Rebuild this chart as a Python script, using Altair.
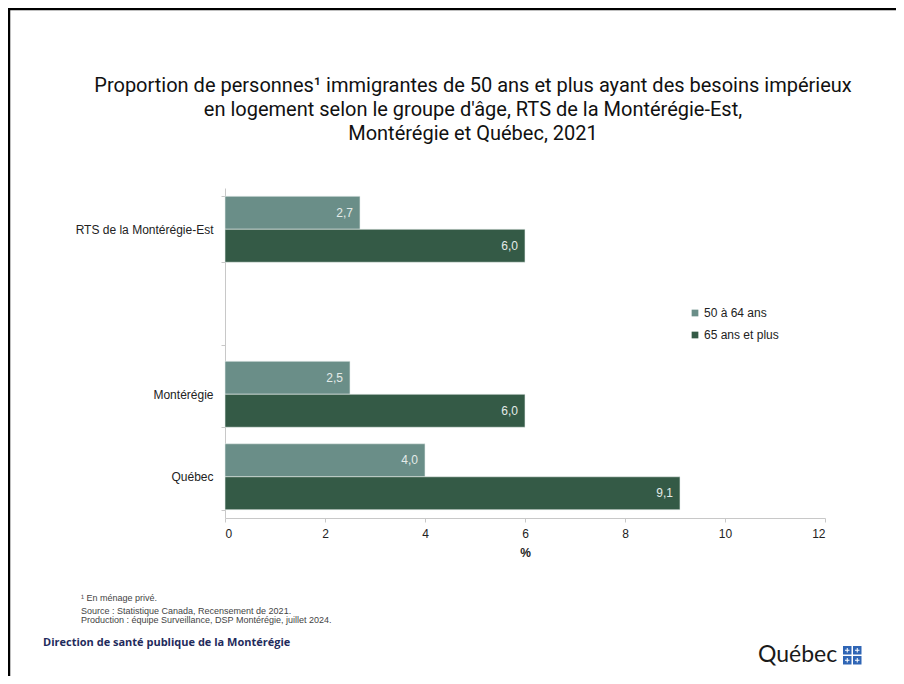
import altair as alt
import pandas as pd

regions = ["RTS de la Montérégie-Est", "Montérégie", "Québec"]
domain_y = ["RTS de la Montérégie-Est", " ", "Montérégie", "Québec"]
groups = ["50 à 64 ans", "65 ans et plus"]
vals_50_64 = [2.7, 2.5, 4.0]
vals_65 = [6.0, 6.0, 9.1]
colors = ["#6a8e88", "#345a46"]

title_lines = [
    "Proportion de personnes¹ immigrantes de 50 ans et plus ayant des besoins impérieux",
    "en logement selon le groupe d'âge, RTS de la Montérégie-Est,",
    "Montérégie et Québec, 2021",
]
notes = [
    "¹ En ménage privé.",
    "Source : Statistique Canada, Recensement de 2021.",
    "Production : équipe Surveillance, DSP Montérégie, juillet 2024.",
]
org = "Direction de santé publique de la Montérégie"

rows = []
for r, a, b in zip(regions, vals_50_64, vals_65):
    rows.append({"region": r, "groupe": groups[0], "v": a})
    rows.append({"region": r, "groupe": groups[1], "v": b})
df = pd.DataFrame(rows)
df["lbl"] = df["v"].map(lambda x: f"{x:.1f}".replace(".", ","))

FONT = "Liberation Sans"
W, H = 600, 330

yscale = alt.Scale(domain=domain_y, paddingInner=0.2, paddingOuter=0.1)
yenc = alt.Y("region:N", scale=yscale,
             axis=alt.Axis(title=None, labelFont=FONT, labelFontSize=12, labelColor="#222",
                           labelPadding=8, domainColor="#c8c8c8", tickColor="#c8c8c8",
                           tickSize=4, tickBand="extent"))
xenc = alt.X("v:Q", scale=alt.Scale(domain=[0, 12], nice=False),
             axis=alt.Axis(title="%", values=[0, 2, 4, 6, 8, 10, 12], grid=False,
                           labelFont=FONT, labelFontSize=12, labelColor="#222", labelPadding=6,
                           titleFont=FONT, titleFontSize=12, titleFontWeight="bold",
                           titleColor="#222", titlePadding=8,
                           domainColor="#c8c8c8", tickColor="#c8c8c8", tickSize=4))
yoff = alt.YOffset("groupe:N", sort=groups, scale=alt.Scale(paddingInner=0, paddingOuter=0))

base = alt.Chart(df)
bars = base.mark_bar(stroke="#e8eeec", strokeWidth=0.6).encode(
    y=yenc, x=xenc, yOffset=yoff,
    color=alt.Color("groupe:N", sort=groups,
                    scale=alt.Scale(domain=groups, range=colors),
                    legend=alt.Legend(title=None, orient="none", legendX=464, legendY=119,
                                      symbolType="square", symbolSize=45, symbolStrokeWidth=0,
                                      labelFont=FONT, labelFontSize=12, labelColor="#222",
                                      rowPadding=10, labelOffset=3)),
)
labels = base.mark_text(align="right", baseline="middle", dx=-7, font=FONT, fontSize=12,
                        color="#e4ebe8").encode(
    y=alt.Y("region:N", scale=yscale), x="v:Q", yOffset=yoff, text="lbl:N")

title_layers = [
    alt.Chart(pd.DataFrame({"t": [t]})).mark_text(align="center", baseline="middle", font="Roboto",
                                                  fontSize=20, color="#111").encode(
        x=alt.value(248), y=alt.value(yy), text="t:N")
    for t, yy in zip(title_lines, [-102, -78, -54])
]
note_layers = [
    alt.Chart(pd.DataFrame({"t": [t]})).mark_text(align="left", baseline="middle", font=FONT,
                                                  fontSize=9, color="#444").encode(
        x=alt.value(-144), y=alt.value(yy), text="t:N")
    for t, yy in zip(notes, [410, 423, 432])
]
org_layer = alt.Chart(pd.DataFrame({"t": [org]})).mark_text(
    align="left", baseline="middle", font="Open Sans", fontSize=11, fontWeight="bold",
    color="#1f2b5c").encode(x=alt.value(-182), y=alt.value(455), text="t:N")
logo_text = alt.Chart(pd.DataFrame({"t": ["Québec"]})).mark_text(
    align="left", baseline="middle", font="Lato", fontSize=23, color="#1a1a1a").encode(
    x=alt.value(533), y=alt.value(467), text="t:N")
deco = []
for (x0, y0) in [(618, 458), (628, 458), (618, 468), (628, 468)]:
    deco.append(alt.Chart(pd.DataFrame({"a": [0]})).mark_rect(color="#2f65b5").encode(
        x=alt.value(x0), x2=alt.value(x0 + 8.5), y=alt.value(y0), y2=alt.value(y0 + 8.5)))
    deco.append(alt.Chart(pd.DataFrame({"a": [0]})).mark_rule(color="white", strokeWidth=1).encode(
        x=alt.value(x0 + 2), x2=alt.value(x0 + 6.5), y=alt.value(y0 + 4.25)))
    deco.append(alt.Chart(pd.DataFrame({"a": [0]})).mark_rule(color="white", strokeWidth=1).encode(
        x=alt.value(x0 + 4.25), y=alt.value(y0 + 2), y2=alt.value(y0 + 6.5)))
frame_top = alt.Chart(pd.DataFrame({"a": [0]})).mark_rule(color="#000", strokeWidth=2.5).encode(
    x=alt.value(-217), x2=alt.value(680), y=alt.value(-179))
frame_left = alt.Chart(pd.DataFrame({"a": [0]})).mark_rule(color="#000", strokeWidth=2.5).encode(
    x=alt.value(-216), y=alt.value(-180), y2=alt.value(500))

chart = alt.layer(bars, labels, *title_layers, *note_layers, org_layer, logo_text, *deco,
                  frame_top, frame_left).properties(
    width=W, height=H,
    background="white",
    autosize=alt.AutoSizeParams(type="none"),
    padding={"left": 217, "top": 180, "right": 71, "bottom": 158},
).configure_view(strokeWidth=0, stroke="transparent")

chart.save("out.html", embed_options={"renderer": "svg", "actions": False})
